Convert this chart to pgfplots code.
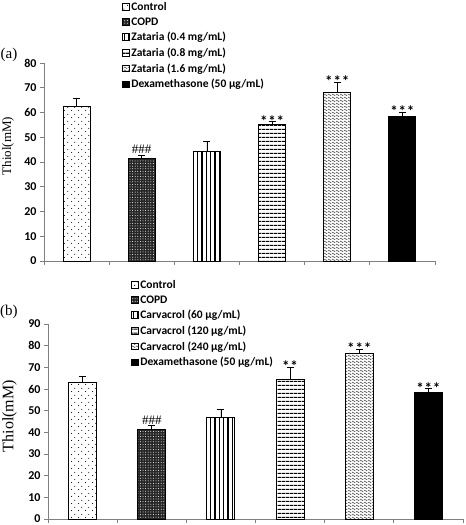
\documentclass[border=0pt]{standalone}
\usepackage{fontspec}
\setmainfont{Carlito}
\newfontfamily\serifft{Liberation Serif}
\usepackage{pgfplots}
\pgfplotsset{compat=1.18}
\usetikzlibrary{patterns,patterns.meta}

\pgfdeclarepattern{
  name=sparsedots, type=uncolored,
  bottom left={\pgfpoint{0pt}{0pt}}, top right={\pgfpoint{7pt}{7pt}},
  tile size={\pgfpoint{7pt}{7pt}},
  code={\pgfpathcircle{\pgfpoint{1.75pt}{1.75pt}}{0.6pt}\pgfpathcircle{\pgfpoint{5.25pt}{5.25pt}}{0.6pt}\pgfusepath{fill}}
}
\pgfdeclarepattern{
  name=wave, type=uncolored,
  bottom left={\pgfpoint{0pt}{0pt}}, top right={\pgfpoint{4pt}{3pt}},
  tile size={\pgfpoint{4pt}{3pt}},
  code={
    \pgfsetlinewidth{0.8pt}
    \pgfpathmoveto{\pgfpoint{0pt}{1.5pt}}
    \pgfpathlineto{\pgfpoint{1pt}{2.5pt}}
    \pgfpathlineto{\pgfpoint{3pt}{0.5pt}}
    \pgfpathlineto{\pgfpoint{4pt}{1.5pt}}
    \pgfusepath{stroke}
  }
}

\newcommand\threestar{*\kern0.8pt*\kern0.8pt*}
\newcommand\twostar{*\kern0.8pt*}

\pgfplotsset{
  panel/.style={
    scale only axis, axis lines*=left, clip=false,
    axis line style={draw=gray, line width=0.8pt},
    xmin=0.5, xmax=6.5, xtick={0.5,1.5,...,6.5}, xticklabels={},
    tick align=outside, major tick length=4pt,
    tick style={draw=gray, line width=0.8pt},
    ymin=0,
    yticklabel style={font=\bfseries\fontsize{12}{12}\selectfont},
    /pgf/number format/assume math mode=true,
    legend cell align=left,
    legend style={draw=none, fill=none, font=\bfseries\fontsize{11.5}{11.5}\selectfont, row sep=1.7pt, inner sep=0pt, anchor=north west},
    legend image code/.code={\draw[##1,line width=0.6pt] (0pt,-3pt) rectangle (6.5pt,3.5pt);},
  },
  mybar/.style={ybar, bar shift=0pt, draw=black, line width=1pt,
    /pgfplots/error bars/y dir=plus,
    /pgfplots/error bars/y explicit,
    /pgfplots/error bars/error bar style={line width=0.8pt, black},
    /pgfplots/error bars/error mark options={rotate=90, mark size=3.5pt, line width=0.8pt, black}},
  starlab/.style={draw=none, forget plot, nodes near coords, point meta=explicit symbolic,
    nodes near coords style={font=\bfseries\fontsize{15}{15}\selectfont, anchor=base, yshift=-4.5pt, inner sep=0pt}},
  hashlab/.style={draw=none, forget plot, nodes near coords, point meta=explicit symbolic,
    nodes near coords style={font=\serifft\fontsize{13}{13}\selectfont, anchor=base, yshift=1.5pt, inner sep=0pt}},
}

\begin{document}
\begin{tikzpicture}
\useasboundingbox (0,0) rectangle (466pt,-525pt);
% ---------- panel (a)
\begin{axis}[panel, at={(44pt,-261pt)}, anchor=south west, width=391pt, height=198pt,
  ymax=80, ytick={0,10,...,80}, bar width=27pt,
  legend style={at={(0.1995,1.318)}},
  ylabel={Thiol(mM)},
  ylabel style={font=\serifft\fontsize{13}{13}\selectfont, at={(axis description cs:-0.092,0.58)}, anchor=center}]
\addplot[mybar, pattern=sparsedots, pattern color=black] coordinates {(1,62.6) +- (0,2.9)};
\addlegendentry{Control}
\addplot[mybar, fill=black!85, postaction={pattern={Dots[radius=0.5pt,distance=2.6pt]}, pattern color=white}] coordinates {(2,41.5) +- (0,1.3)};
\addlegendentry{COPD}
\addplot[mybar, pattern={Lines[angle=90,distance=4.3pt,line width=1.3pt]}] coordinates {(3,44.4) +- (0,3.8)};
\addlegendentry{Zataria (0.4 mg/mL)}
\addplot[mybar, pattern={Lines[angle=0,distance=4pt,line width=1.2pt]}] coordinates {(4,55.2) +- (0,1.1)};
\addlegendentry{Zataria (0.8 mg/mL)}
\addplot[mybar, pattern=wave, pattern color=black!60] coordinates {(5,68.2) +- (0,4.0)};
\addlegendentry{Zataria (1.6 mg/mL)}
\addplot[mybar, fill=black] coordinates {(6,58.3) +- (0,1.8)};
\addlegendentry{Dexamethasone (50 µg/mL)}
\addplot[hashlab] coordinates {(2,42.8)[\#\#\#]};
\addplot[starlab] coordinates {(4,56.3)[\threestar] (5,72.2)[\threestar] (6,60.1)[\threestar]};
\node[font=\serifft\fontsize{15}{15}\selectfont] at (rel axis cs:-0.0895,1.04) {(a)};
\end{axis}
% ---------- panel (b)
\begin{axis}[panel, at={(48pt,-519pt)}, anchor=south west, width=415pt, height=195pt,
  ymax=90, ytick={0,10,...,90}, bar width=28pt,
  legend style={at={(0.2,1.236)}},
  ylabel={Thiol(mM)},
  ylabel style={font=\serifft\fontsize{16}{16}\selectfont, at={(axis description cs:-0.093,0.528)}, anchor=center}]
\addplot[mybar, pattern=sparsedots, pattern color=black] coordinates {(1,63.0) +- (0,2.6)};
\addlegendentry{Control}
\addplot[mybar, fill=black!85, postaction={pattern={Dots[radius=0.5pt,distance=2.6pt]}, pattern color=white}] coordinates {(2,41.5) +- (0,1.5)};
\addlegendentry{COPD}
\addplot[mybar, pattern={Lines[angle=90,distance=4.3pt,line width=1.3pt]}] coordinates {(3,46.9) +- (0,3.5)};
\addlegendentry{Carvacrol (60 µg/mL)}
\addplot[mybar, pattern={Lines[angle=0,distance=4pt,line width=1.2pt]}] coordinates {(4,64.4) +- (0,5.8)};
\addlegendentry{Carvacrol (120 µg/mL)}
\addplot[mybar, pattern=wave, pattern color=black!60] coordinates {(5,76.3) +- (0,2.2)};
\addlegendentry{Carvacrol (240 µg/mL)}
\addplot[mybar, fill=black] coordinates {(6,58.3) +- (0,1.8)};
\addlegendentry{Dexamethasone (50 µg/mL)}
\addplot[hashlab] coordinates {(2,43.0)[\#\#\#]};
\addplot[starlab] coordinates {(4,70.2)[\twostar] (5,78.5)[\threestar] (6,60.1)[\threestar]};
\node[font=\serifft\fontsize{15}{15}\selectfont] at (rel axis cs:-0.094,1.061) {(b)};
\end{axis}
\end{tikzpicture}
\end{document}
